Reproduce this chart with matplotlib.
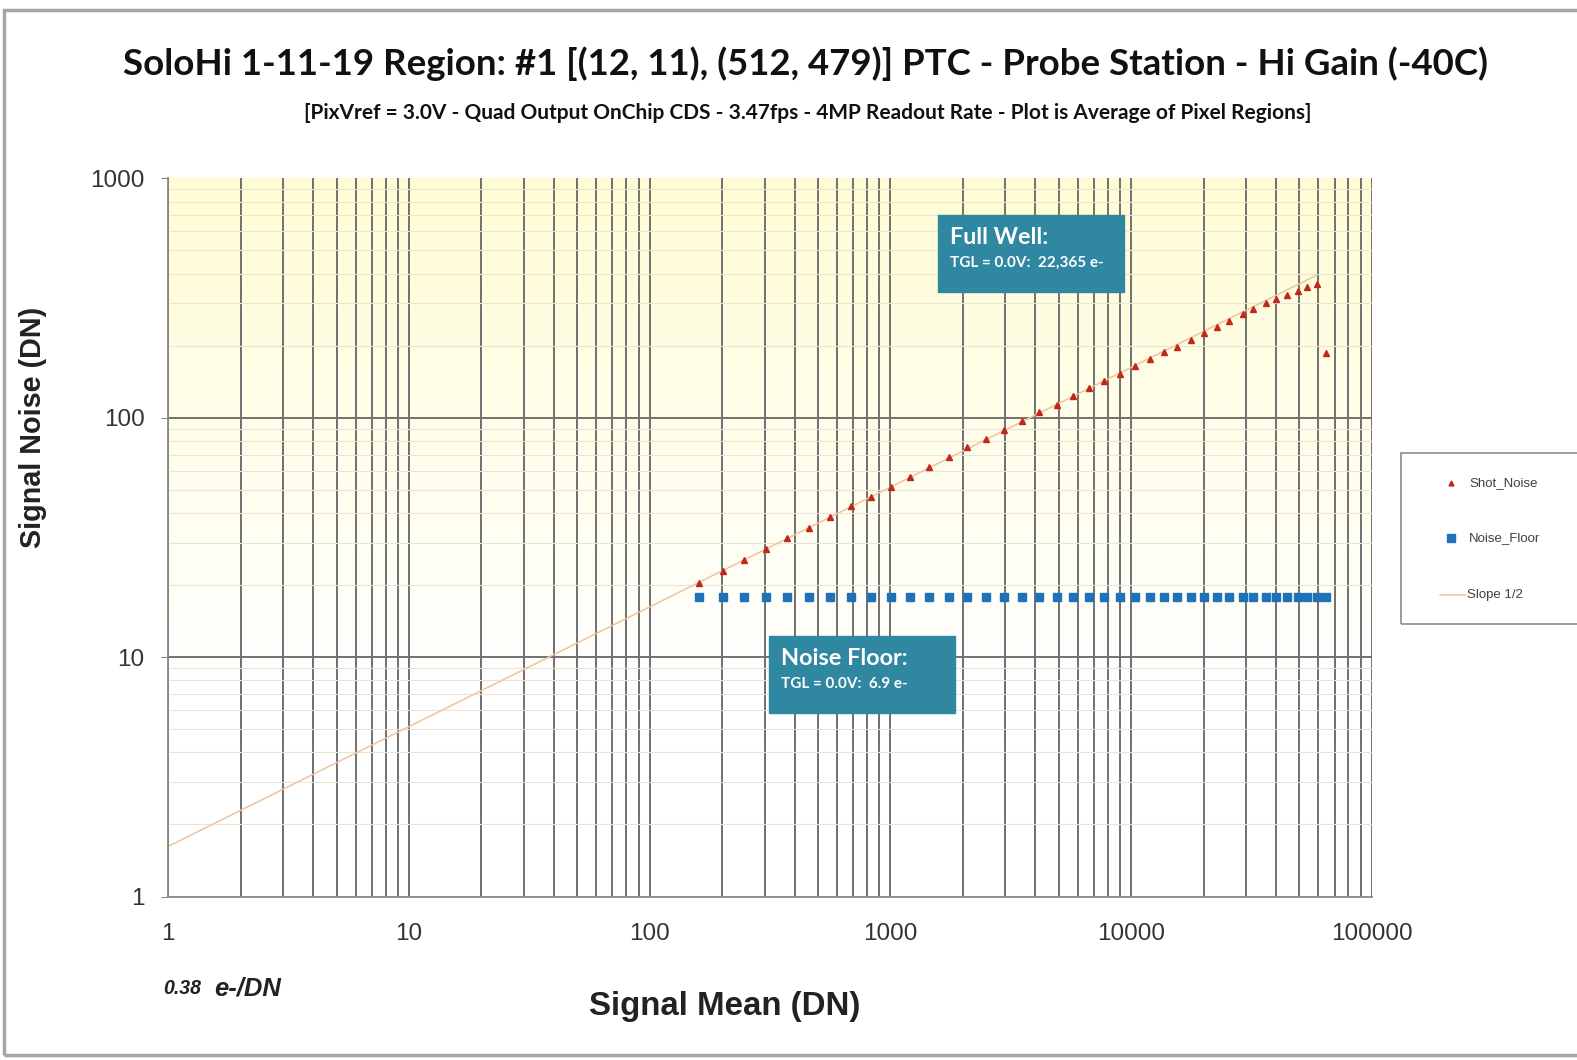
# Photon transfer curve, SoloHi hi gain (-40C)
import numpy as np
import matplotlib
matplotlib.use('Agg')
import matplotlib.pyplot as plt
from matplotlib.patches import Rectangle
from matplotlib.lines import Line2D
from matplotlib.ticker import FixedLocator, LogLocator, NullFormatter

# ---- data ----
signal_mean = [160, 201, 247, 304, 373, 460, 561, 684, 828, 1003,
               1206, 1452, 1747, 2087, 2495, 2965, 3512, 4143, 4909, 5753,
               6687, 7738, 8995, 10380, 11990, 13710, 15560, 17740, 20150, 22690,
               25590, 29090, 32200, 36250, 39900, 44590, 49530, 53980, 59360, 64340]
shot_noise = [20.3, 23.0, 25.4, 28.4, 31.4, 34.6, 38.4, 42.8, 46.8, 51.5,
              56.7, 62.1, 68.3, 75.2, 81.7, 88.8, 96.9, 105.3, 113.3, 123.2,
              133.0, 142.8, 152.2, 164.4, 175.4, 187.6, 198.0, 211.2, 225.2, 239.9,
              254.2, 270.3, 285.3, 300.6, 312.3, 325.4, 339.3, 350.5, 361.9, 185.8]
noise_floor = [17.9, 17.9, 17.9, 17.9, 17.9, 17.9, 17.9, 17.9, 17.9, 17.9,
               17.9, 17.9, 17.9, 17.9, 17.9, 17.9, 17.9, 17.9, 17.9, 17.9,
               17.9, 17.9, 17.9, 17.9, 17.9, 17.9, 17.9, 17.9, 17.9, 17.9,
               17.9, 17.9, 17.9, 17.9, 17.9, 17.9, 17.9, 17.9, 17.9, 17.9]
slope_x = [1, 59000]
slope_y = [1.62, 394]

x_ticks = [1, 10, 100, 1000, 10000, 100000]
x_labels = ['1', '10', '100', '1000', '10000', '100000']
y_ticks = [1, 10, 100, 1000]
y_labels = ['1', '10', '100', '1000']

title = 'SoloHi 1-11-19 Region: #1 [(12, 11), (512, 479)] PTC - Probe Station - Hi Gain (-40C)'
subtitle = ('[PixVref = 3.0V - Quad Output OnChip CDS - 3.47fps - 4MP Readout Rate'
            ' - Plot is Average of Pixel Regions]')

# ---- figure in pixel terms ----
W, H = 1577, 1060
fig = plt.figure(figsize=(W / 100, H / 100), dpi=100)
renderer = fig.canvas.get_renderer()


def fx(x):
    return x / W


def fy(y):
    return 1 - y / H


def fit(t, target, vertical=False):
    # scale the font so the text spans the target number of pixels
    ext = t.get_window_extent(renderer=renderer)
    size = ext.height if vertical else ext.width
    t.set_fontsize(t.get_fontsize() * target / size)


calibri = ['Lato', 'DejaVu Sans']
arial = ['Liberation Sans', 'DejaVu Sans']
teal = '#2F87A2'
grid_dark = '#707070'
slope_col = '#F0C39C'

# plot area
x0, x1, y0, y1 = 168.3, 1371.8, 178.3, 896.5
rect = [fx(x0), fy(y1), (x1 - x0) / W, (y1 - y0) / H]

# yellow-to-white gradient behind the plot
bg = fig.add_axes(rect, zorder=0)
t = np.linspace(0, 1, 256)
frac = np.clip(1 - t / 0.7, 0, 1)[:, None]
top = np.array([1.0, 0.99, 0.83])
img = (1 - frac) * np.ones(3) + frac * top
bg.imshow(img[:, None, :], aspect='auto', extent=[0, 1, 0, 1])
bg.axis('off')

ax = fig.add_axes(rect, zorder=1)
ax.set_facecolor('none')
ax.set_xscale('log')
ax.set_yscale('log')
ax.set_xlim(1, 100000)
ax.set_ylim(1, 1000)

ax.xaxis.set_major_locator(FixedLocator(x_ticks))
ax.set_xticklabels(x_labels, family=arial, color='#333333')
ax.yaxis.set_major_locator(FixedLocator(y_ticks))
ax.set_yticklabels(y_labels, family=arial, color='#333333')
ax.xaxis.set_minor_locator(LogLocator(base=10, subs=np.arange(2, 10), numticks=20))
ax.yaxis.set_minor_locator(LogLocator(base=10, subs=np.arange(2, 10), numticks=20))
ax.xaxis.set_minor_formatter(NullFormatter())
ax.yaxis.set_minor_formatter(NullFormatter())

# grid: dark verticals, faint minor horizontals, dark decade horizontals
ax.grid(which='both', axis='x', color=grid_dark, lw=1.4)
ax.grid(which='minor', axis='y', color='#E9E6D6', lw=0.8)
for yv in [10, 100]:
    ax.axhline(yv, color=grid_dark, lw=1.4, zorder=0.5)
ax.set_axisbelow(True)

for s in ['top', 'right']:
    ax.spines[s].set_visible(False)
for s in ['left', 'bottom']:
    ax.spines[s].set_color('#888888')
    ax.spines[s].set_linewidth(1.3)

ax.tick_params(axis='x', which='both', length=0, pad=19, labelsize=17.5)
ax.tick_params(axis='y', which='major', length=5, color='#888888', pad=12, labelsize=17.5)
ax.tick_params(axis='y', which='minor', length=0)

# series
ax.plot(slope_x, slope_y, color=slope_col, lw=1.1, zorder=2)
ax.plot(signal_mean, noise_floor, ls='none', marker='s', ms=5.5, color='#1F72B8', zorder=3)
ax.plot(signal_mean, shot_noise, ls='none', marker='^', ms=4.5, color='#C0281E', zorder=4)

# titles
t1 = fig.text(fx(805.5), fy(64), title, ha='center', va='center',
              fontsize=28, fontweight='bold', family=calibri, color='#111111')
fit(t1, 1368)
t2 = fig.text(fx(808), fy(112.6), subtitle, ha='center', va='center',
              fontsize=14, fontweight='bold', family=calibri, color='#111111')
fit(t2, 1012)

# axis labels
yl = fig.text(fx(33), fy(427.5), 'Signal Noise (DN)', rotation=90, ha='center', va='center',
              fontsize=18, fontweight='bold', family=arial, color='#222222')
fit(yl, 241, vertical=True)
xl = fig.text(fx(725), fy(1007), 'Signal Mean (DN)', ha='center', va='center',
              fontsize=20, fontweight='bold', family=arial, color='#222222')
fit(xl, 271)

g1 = fig.text(fx(163.3), fy(988), '0.38', ha='left', va='center', fontsize=12,
              fontweight='bold', style='italic', family=arial, color='#222222')
fit(g1, 38)
g2 = fig.text(fx(214), fy(988), 'e-/DN', ha='left', va='center', fontsize=16,
              fontweight='bold', style='italic', family=arial, color='#222222')
fit(g2, 67)

# annotation boxes
for (bx0, by0, bx1, by1), head, sub, head_w, sub_w in [
        ((938.3, 215, 1124, 291.7), 'Full Well:', 'TGL = 0.0V:  22,365 e-', 98, 153),
        ((769.3, 636, 955, 712.7), 'Noise Floor:', 'TGL = 0.0V:  6.9 e-', 127, 127)]:
    fig.add_artist(Rectangle((fx(bx0), fy(by1)), (bx1 - bx0) / W, (by1 - by0) / H,
                             transform=fig.transFigure, color=teal, zorder=5))
    h = fig.text(fx(bx0 + 11.5), fy(by0 + 22.5), head, ha='left', va='center', fontsize=20,
                 fontweight='bold', family=calibri, color='white', zorder=6)
    fit(h, head_w)
    s = fig.text(fx(bx0 + 11.5), fy(by0 + 48), sub, ha='left', va='center', fontsize=11,
                 fontweight='bold', family=calibri, color='white', zorder=6)
    fit(s, sub_w)

# legend, drawn by hand so the box can run off the right edge
fig.add_artist(Rectangle((fx(1400.7), fy(624)), 0.2, (624 - 453) / H,
                         transform=fig.transFigure, fill=False, ec='#8C8C8C', lw=1.2))
fig.add_artist(Line2D([fx(1450.7)], [fy(482.7)], transform=fig.transFigure, ls='none',
                      marker='^', ms=3.5, color='#C0281E'))
fig.add_artist(Line2D([fx(1450.7)], [fy(538)], transform=fig.transFigure, ls='none',
                      marker='s', ms=5.5, color='#1F72B8'))
fig.add_artist(Line2D([fx(1440), fx(1465)], [fy(595), fy(595)], transform=fig.transFigure,
                      color=slope_col, lw=1.1))
for yy, lab, xs in [(482.7, 'Shot_Noise', 1469), (538, 'Noise_Floor', 1469), (595, 'Slope 1/2', 1467)]:
    fig.text(fx(xs), fy(yy), lab, ha='left', va='center', fontsize=9.5,
             family=arial, color='#404040')

# outer chart border
fig.add_artist(Rectangle((fx(4), fy(1055)), 1.1, (1055 - 10) / H,
                         transform=fig.transFigure, fill=False, ec='#A6A6A6', lw=2.5))

fig.savefig('out.png', dpi=100)
